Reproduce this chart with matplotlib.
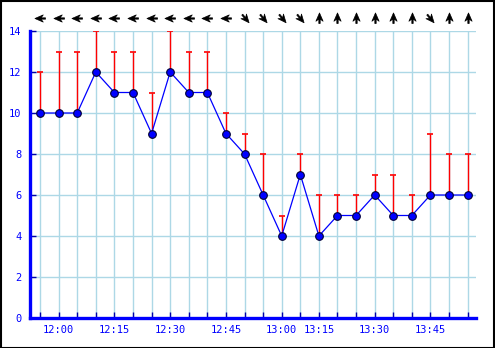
import matplotlib
matplotlib.use("Agg")
import matplotlib.pyplot as plt
from matplotlib.path import Path
from matplotlib.markers import MarkerStyle
from matplotlib.transforms import Affine2D, blended_transform_factory
from matplotlib.patches import Rectangle
import numpy as np

times = ["11:55", "12:00", "12:05", "12:10", "12:15", "12:20", "12:25", "12:30",
         "12:35", "12:40", "12:45", "12:50", "12:55", "13:00", "13:05", "13:15",
         "13:20", "13:25", "13:30", "13:35", "13:40", "13:45", "13:50", "13:55"]
speed = [10, 10, 10, 12, 11, 11, 9, 12, 11, 11, 9, 8, 6, 4, 7, 4, 5, 5, 6, 5, 5, 6, 6, 6]
gust = [12, 13, 13, 14, 13, 13, 11, 14, 13, 13, 10, 9, 8, 5, 8, 6, 6, 6, 7, 7, 6, 9, 8, 8]
# arrow pointing angles (degrees, counter-clockwise from +x)
arrow_deg = [180, 180, 180, 180, 180, 180, 180, 180, 180, 180, 180, -50,
             -50, -50, -50, 90, 90, 90, 90, 90, 90, -50, 90, 90]

W, H = 495, 348
fig = plt.figure(figsize=(W / 100, H / 100), dpi=100)
ax = fig.add_axes([30 / W, (H - 318) / H, (476 - 30) / W, (318 - 31) / H])

x = np.arange(len(times))
blue = "#0000ff"
grid_c = "#add8e6"

ax.set_xlim(-0.54, 23.45)
ax.set_ylim(0, 14)
ax.set_yticks(range(0, 15, 2))
ax.set_xticks(x)
ax.set_xticklabels([t if t.endswith(("00", "15", "30", "45")) else "" for t in times])

ax.grid(True, color=grid_c, linewidth=1.0)
ax.set_axisbelow(True)
for s in ["top", "right"]:
    ax.spines[s].set_visible(False)
for s in ["left", "bottom"]:
    ax.spines[s].set_color(blue)
    ax.spines[s].set_linewidth(2.4)
ax.tick_params(axis="both", direction="in", length=4, width=1, color="#0000aa",
               labelcolor=blue, labelsize=7.5)
ax.tick_params(axis="y", pad=6)
ax.tick_params(axis="x", pad=5)
for lab in ax.get_xticklabels() + ax.get_yticklabels():
    lab.set_fontfamily("DejaVu Sans Mono")

# gust bars
ax.vlines(x, speed, gust, color="red", linewidth=1.0, zorder=3)
ax.plot(x, gust, linestyle="none", marker="_", markersize=5, markeredgewidth=1.2,
        color="red", zorder=3)

# speed line
ax.plot(x, speed, color=blue, linewidth=0.9, marker="o", markersize=5.5,
        markerfacecolor=blue, markeredgecolor="#000033", markeredgewidth=0.8, zorder=4,
        clip_on=False)

# wind direction arrows (arrowhead with short tail)
verts = [(1.0, 0.0), (-0.5, 0.65), (-0.1, 0.12), (-0.9, 0.12), (-0.9, -0.12),
         (-0.1, -0.12), (-0.5, -0.65), (1.0, 0.0)]
codes = [Path.MOVETO] + [Path.LINETO] * 6 + [Path.CLOSEPOLY]
arrow_path = Path(verts, codes)
trans = blended_transform_factory(ax.transData, ax.transAxes)
for xi, a in zip(x, arrow_deg):
    m = MarkerStyle(arrow_path, transform=Affine2D().rotate_deg(a))
    ax.plot([xi], [1.044], marker=m, markersize=8, color="black",
            markerfacecolor="black", markeredgewidth=0.5, transform=trans,
            clip_on=False, linestyle="none")

fig.patches.append(Rectangle((0.5 / W, 0.5 / H), 1 - 1.5 / W, 1 - 1.5 / H,
                             transform=fig.transFigure, fill=False,
                             edgecolor="black", linewidth=1.5))

fig.savefig("out.png", dpi=100)
